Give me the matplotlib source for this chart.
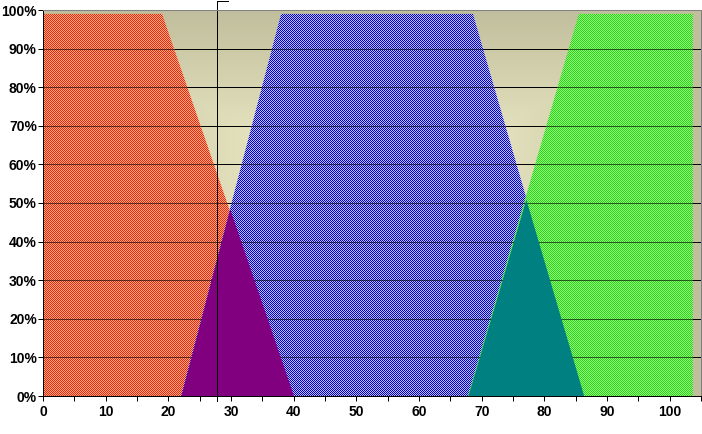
import numpy as np
import matplotlib
matplotlib.use("Agg")
import matplotlib.pyplot as plt
from matplotlib.patches import Polygon
import matplotlib.transforms as mtransforms

# ---- data ----
red_x = [0, 19, 40]
red_y = [0.99, 0.99, 0.0]
blue_x = [22, 38, 68.6, 86.3]
blue_y = [0.0, 0.99, 0.99, 0.0]
green_x = [67.8, 85.5, 103.7]
green_y = [0.0, 0.99, 0.99]
purple_x = [22, 29.8, 40]
purple_y = [0.0, 0.485, 0.0]
teal_x = [67.8, 77.05, 86.3]
teal_y = [0.0, 0.51, 0.0]
marker_x = 27.7
x_major = list(range(0, 101, 10))
x_minor = list(range(5, 106, 10))
y_ticks = [i / 10 for i in range(11)]
y_labels = [f"{i*10}%" for i in range(11)]

W, H = 702, 434
PX = 0.72  # one pixel in points at 100 dpi
fig = plt.figure(figsize=(W / 100, H / 100), dpi=100)
fig.patch.set_facecolor("white")
L, B, AW, AH = 43, 38, 658, 386
rect = [L / W, B / H, AW / W, AH / H]

# bottom axes: gradient background + solid gridlines
ax0 = fig.add_axes(rect, zorder=0)
ax0.set_xlim(0, 105)
ax0.set_ylim(0, 1)
ax0.set_axis_off()
gy, gx = np.mgrid[-1:1:200j, -1:1:300j]
t = np.clip(np.maximum(np.abs(gx), np.abs(gy)), 0, 1) ** 1.1
c_in = np.array([246, 243, 206]) / 255
c_out = np.array([192, 190, 156]) / 255
bg = c_in[None, None, :] * (1 - t[..., None]) + c_out[None, None, :] * t[..., None]
ax0.imshow(bg, extent=(0, 105, 0, 1), aspect="auto", origin="lower",
           interpolation="bilinear", zorder=0)
for yv in y_ticks[1:-1]:
    ax0.axhline(yv, color="black", lw=PX, zorder=1, antialiased=False)

# top axes: overlays, ticks, spines
ax = fig.add_axes(rect, zorder=2)
ax.set_xlim(0, 105)
ax.set_ylim(0, 1)
ax.patch.set_alpha(0)

# pixel-exact checkerboard pattern fills (figure images, clipped)
ii, jj = np.mgrid[0:H, 0:W]
chk = ((ii + jj) % 2).astype(bool)

def pattern(dark, light):
    img = np.zeros((H, W, 4))
    img[chk, :3] = np.array(dark) / 255
    img[~chk, :3] = np.array(light) / 255
    img[..., 3] = 1.0
    return img

def area_poly(xs, ys):
    pts = [(xs[0], 0)] + list(zip(xs, ys)) + [(xs[-1], 0)]
    return Polygon(pts, closed=True, transform=ax.transData)

def patterned_area(xs, ys, dark, light):
    im = fig.figimage(pattern(dark, light), xo=0, yo=0, origin="lower", zorder=1)
    im.set_clip_path(area_poly(xs, ys))
    # gridlines showing through as dots
    for yv in y_ticks[1:-1]:
        ln, = ax.plot([0, 105], [yv, yv], color="black", lw=PX, alpha=0.6,
                      dashes=(1, 1), zorder=1, antialiased=False)
        ln.set_clip_path(area_poly(xs, ys))

patterned_area(red_x, red_y, (228, 40, 18), (255, 168, 128))
patterned_area(blue_x, blue_y, (0, 0, 200), (190, 190, 255))
patterned_area(green_x, green_y, (45, 205, 45), (145, 250, 105))

ax.fill_between(purple_x, purple_y, 0, color="#800080", lw=0, zorder=2)
ax.fill_between(teal_x, teal_y, 0, color="#008080", lw=0, zorder=2)

# vertical marker line
trans = mtransforms.blended_transform_factory(ax.transData, ax.transAxes)
top = (396 - 1) / AH
ax.plot([marker_x, marker_x, marker_x + 1.8], [-0.012, top, top], color="black",
        lw=PX, transform=trans, clip_on=False, zorder=5, antialiased=False)

# spines
for s in ["top", "right"]:
    ax.spines[s].set_color("#808080")
for s in ["left", "bottom"]:
    ax.spines[s].set_color("black")
for sp in ax.spines.values():
    sp.set_linewidth(PX)
    sp.set_antialiased(False)
    sp.set_zorder(6)

font = dict(family=["Liberation Sans", "DejaVu Sans"], weight="bold", size=10)
ax.set_xticks(x_major)
ax.set_xticklabels([str(v) for v in x_major], **font)
ax.set_xticks(x_minor, minor=True)
ax.set_yticks(y_ticks)
ax.set_yticklabels(y_labels, **font)
ax.tick_params(axis="both", which="both", direction="out", length=3.5, width=PX,
               color="black")
ax.tick_params(axis="y", pad=1)
ax.tick_params(axis="x", pad=3)

fig.savefig("out.png", dpi=100, facecolor="white")
